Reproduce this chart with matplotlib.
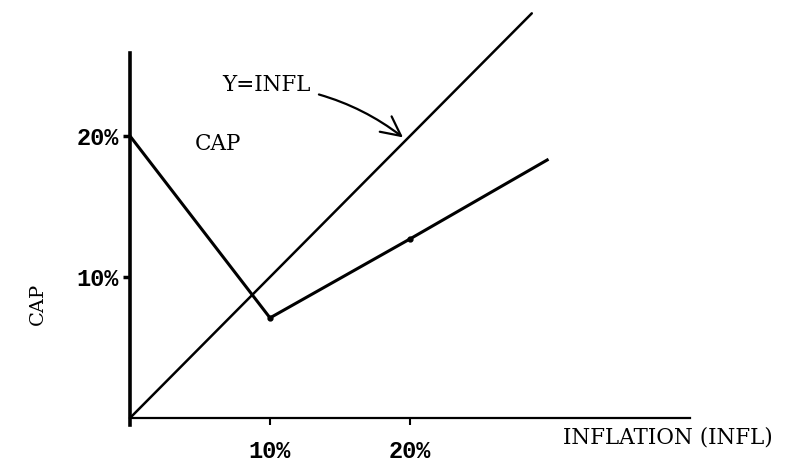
import matplotlib.pyplot as plt

# data (percent)
diag_infl = [0, 28.7]
diag_y = [0, 28.7]
cap_infl = [0, 10, 20, 29.8]
cap_vals = [20, 7.1, 12.7, 18.3]
tick_vals = [10, 20]
tick_labels = ["10%", "20%"]

fig = plt.figure(figsize=(7.89, 4.65), dpi=100)
ax = fig.add_axes([0, 0, 1, 1])
# pixel mapping: origin at (130, 418), ~14 px per percent
ax.set_xlim(-130 / 14.0, 659 / 14.0)
ax.set_ylim(-47 / 14.1, 418 / 14.1)

for s in ["top", "right"]:
    ax.spines[s].set_visible(False)
ax.spines["left"].set_position(("data", 0))
ax.spines["bottom"].set_position(("data", 0))
ax.spines["left"].set_bounds(-0.5, 25.9)
ax.spines["bottom"].set_bounds(0, 40)
ax.spines["left"].set_linewidth(2.6)
ax.spines["bottom"].set_linewidth(1.6)

tick_font = dict(family="Liberation Mono", weight="bold", size=17)
ax.set_xticks(tick_vals)
ax.set_xticklabels(tick_labels, **tick_font)
ax.set_yticks(tick_vals)
ax.set_yticklabels(tick_labels, **tick_font)
ax.tick_params(axis="x", direction="out", length=5, width=1.5, pad=11)
ax.tick_params(axis="y", direction="out", length=5, width=2.5, pad=3)

ax.plot(diag_infl, diag_y, color="black", lw=1.8, clip_on=False,
        solid_capstyle="round")
ax.plot(cap_infl, cap_vals, color="black", lw=2.2, clip_on=False,
        marker="o", markersize=3.5, markevery=[1, 2])

serif = dict(family="DejaVu Serif", size=15.5)
ax.text(4.6, 19.4, "CAP", va="center", ha="left", **serif)
ax.annotate("Y=INFL", xy=(19.5, 19.9), xytext=(6.6, 23.6),
            va="center", ha="left", **serif,
            arrowprops=dict(arrowstyle="->,head_length=0.9,head_width=0.45",
                            lw=1.6, color="black",
                            connectionstyle="arc3,rad=-0.15",
                            shrinkA=4, shrinkB=0))
ax.text(30.9, -1.4, "INFLATION (INFL)", va="center", ha="left", **serif)
ax.text(-6.6, 8.1, "CAP", rotation=90, va="center", ha="center",
        family="DejaVu Serif", size=14)

fig.savefig("out.png", dpi=100)
